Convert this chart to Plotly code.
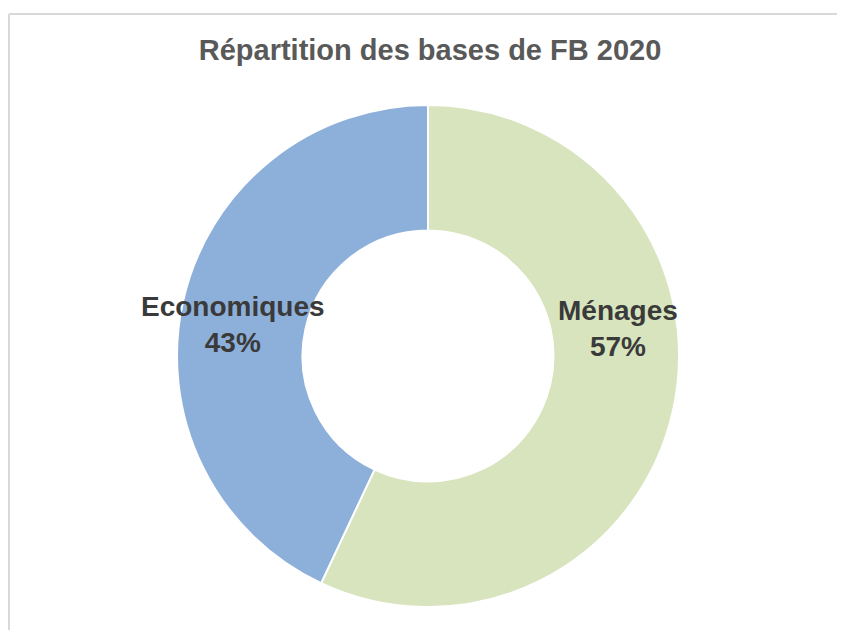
import plotly.graph_objects as go

title = "Répartition des bases de FB 2020"
categories = ["Ménages", "Economiques"]
values = [57, 43]
colors = ["#D7E4BD", "#8DB0DB"]

# page body has an 8px margin; work in reference pixel coords and shift
OFF = 8
W, H = 845 - OFF, 630 - OFF


def px_x(x):
    return (x - OFF) / W


def px_y(y):
    return 1 - (y - OFF) / H


cx, cy, r = 428, 356, 251

fig = go.Figure()
fig.add_trace(go.Pie(
    labels=categories,
    values=values,
    hole=0.5,
    sort=False,
    direction="clockwise",
    rotation=0,
    textinfo="none",
    hoverinfo="label+percent",
    marker=dict(colors=colors, line=dict(color="white", width=2)),
    domain=dict(x=[px_x(cx - r), px_x(cx + r)], y=[px_y(cy + r), px_y(cy - r)]),
    showlegend=False,
))

total = sum(values)
label_pos = [(618, 328), (233, 324)]
for cat, v, (lx, ly) in zip(categories, values, label_pos):
    fig.add_annotation(
        x=px_x(lx), y=px_y(ly), xref="paper", yref="paper",
        xanchor="center", yanchor="middle",
        text=f"<b>{cat}<br>{round(100 * v / total)}%</b>",
        showarrow=False, align="center",
        font=dict(family="Liberation Sans, Arial", size=28, color="#3A3A3A"),
    )

fig.add_shape(type="line", xref="paper", yref="paper", x0=px_x(9), x1=1, y0=px_y(14), y1=px_y(14),
              line=dict(color="#D9D9D9", width=2))
fig.add_shape(type="line", xref="paper", yref="paper", x0=px_x(9), x1=px_x(9), y0=0, y1=px_y(14),
              line=dict(color="#D9D9D9", width=2))

fig.update_layout(
    width=W, height=H,
    margin=dict(l=0, r=0, t=0, b=0),
    paper_bgcolor="white", plot_bgcolor="white",
    title=dict(text=f"<b>{title}</b>", x=px_x(430), xanchor="center", y=px_y(50), yanchor="middle",
               font=dict(family="Liberation Sans, Arial", size=29, color="#595959")),
)
fig.write_html("out.html")
